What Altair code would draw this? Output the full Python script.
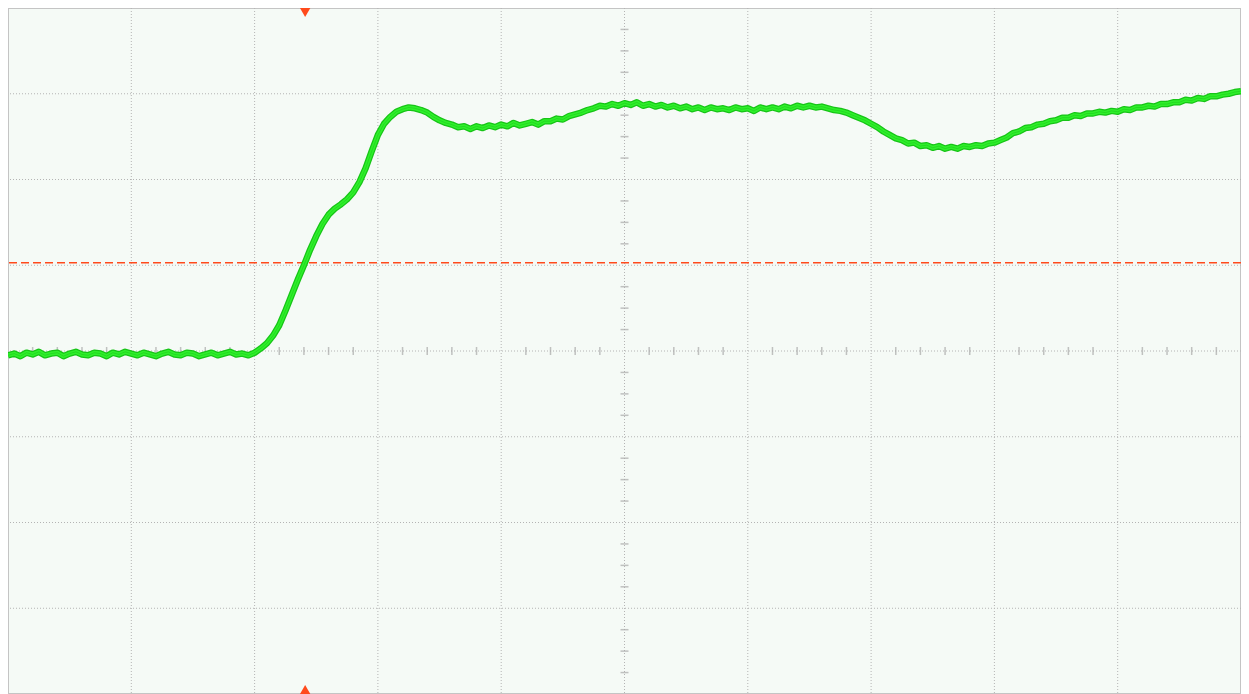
import altair as alt
import pandas as pd

# --- data (divisions) ---
t_step = 0.05
trace_v = [
    -0.05,-0.03,-0.06,-0.02,-0.04,-0.01,-0.05,-0.03,-0.02,-0.06,
    -0.03,-0.01,-0.04,-0.05,-0.02,-0.03,-0.06,-0.02,-0.04,-0.01,
    -0.03,-0.05,-0.02,-0.04,-0.06,-0.03,-0.01,-0.04,-0.05,-0.02,
    -0.03,-0.06,-0.04,-0.02,-0.05,-0.03,-0.01,-0.04,-0.03,-0.05,
    -0.02,0.03,0.09,0.18,0.30,0.47,0.65,0.83,1.00,1.18,
    1.34,1.48,1.59,1.66,1.71,1.77,1.85,1.97,2.13,2.33,
    2.52,2.65,2.73,2.79,2.82,2.84,2.83,2.81,2.78,2.73,
    2.69,2.66,2.64,2.61,2.62,2.59,2.62,2.60,2.63,2.61,
    2.64,2.62,2.66,2.63,2.65,2.67,2.64,2.68,2.68,2.71,
    2.70,2.74,2.76,2.78,2.81,2.83,2.86,2.85,2.88,2.86,
    2.89,2.87,2.90,2.86,2.88,2.85,2.87,2.84,2.86,2.83,
    2.85,2.82,2.84,2.81,2.84,2.82,2.83,2.81,2.84,2.82,
    2.83,2.80,2.84,2.82,2.84,2.82,2.85,2.83,2.86,2.84,
    2.86,2.84,2.85,2.83,2.81,2.80,2.78,2.75,2.72,2.69,
    2.65,2.61,2.56,2.52,2.48,2.46,2.42,2.43,2.39,2.40,
    2.37,2.39,2.36,2.38,2.36,2.39,2.38,2.40,2.39,2.42,
    2.43,2.46,2.49,2.54,2.56,2.60,2.61,2.64,2.65,2.68,
    2.69,2.72,2.72,2.75,2.74,2.77,2.77,2.79,2.78,2.80,
    2.79,2.82,2.81,2.84,2.84,2.86,2.85,2.88,2.88,2.90,
    2.90,2.93,2.92,2.95,2.94,2.97,2.97,2.99,3.00,3.02,
    3.03,
]
trace_t = [round(i * t_step, 2) for i in range(len(trace_v))]

grid_x = [1, 2, 3, 4, 5, 6, 7, 8, 9]
grid_y = [-3, -2, -1, 0, 1, 2, 3]
minor_x = [round(i * 0.2, 2) for i in range(1, 50) if i % 5 != 0]
minor_y = [round(-4 + i * 0.25, 2) for i in range(1, 32) if i % 4 != 0]
trigger_level = [1.03]
trigger_time = [2.41]

X = alt.Scale(domain=[0, 10], nice=False, zero=False)
Y = alt.Scale(domain=[-4, 4], nice=False, zero=False)

trace_df = pd.DataFrame({"t": trace_t, "v": trace_v})
gx_df = pd.DataFrame({"x": grid_x})
gy_df = pd.DataFrame({"y": grid_y})
mx_df = pd.DataFrame({"x": minor_x, "y": [0] * len(minor_x)})
my_df = pd.DataFrame({"y": minor_y, "x": [5] * len(minor_y)})
lvl_df = pd.DataFrame({"y": trigger_level})
trg_df = pd.DataFrame({"x": trigger_time, "top": [4], "bot": [-4]})

grid_color = "#b4b4b4"
red = "#ff4a1c"

vgrid = alt.Chart(gx_df).mark_rule(color=grid_color, strokeDash=[1, 2], strokeWidth=1).encode(
    x=alt.X("x:Q", scale=X, axis=None)
)
hgrid = alt.Chart(gy_df).mark_rule(color=grid_color, strokeDash=[1, 2], strokeWidth=1).encode(
    y=alt.Y("y:Q", scale=Y, axis=None)
)
ticks_x = alt.Chart(mx_df).mark_tick(orient="vertical", size=8, thickness=1.5, color="#a8a8a8").encode(
    x=alt.X("x:Q", scale=X, axis=None), y=alt.Y("y:Q", scale=Y, axis=None)
)
ticks_y = alt.Chart(my_df).mark_tick(orient="horizontal", size=8, thickness=1.5, color="#a8a8a8").encode(
    x=alt.X("x:Q", scale=X, axis=None), y=alt.Y("y:Q", scale=Y, axis=None)
)
level = alt.Chart(lvl_df).mark_rule(color=red, strokeDash=[8, 4], strokeWidth=1.6).encode(
    y=alt.Y("y:Q", scale=Y, axis=None)
)
trace_under = alt.Chart(trace_df).mark_line(color="#17c417", strokeWidth=6.5, strokeJoin="round").encode(
    x=alt.X("t:Q", scale=X, axis=None), y=alt.Y("v:Q", scale=Y, axis=None)
)
trace = alt.Chart(trace_df).mark_line(color="#2ef02a", strokeWidth=4, strokeJoin="round").encode(
    x=alt.X("t:Q", scale=X, axis=None), y=alt.Y("v:Q", scale=Y, axis=None)
)
trace_core = alt.Chart(trace_df).mark_line(color="#16b816", strokeWidth=0.7, opacity=0.6).encode(
    x=alt.X("t:Q", scale=X, axis=None), y=alt.Y("v:Q", scale=Y, axis=None)
)
mk_top = alt.Chart(trg_df).mark_point(shape="triangle-down", filled=True, size=190, color=red,
                                      opacity=1, yOffset=3, clip=False).encode(
    x=alt.X("x:Q", scale=X, axis=None), y=alt.Y("top:Q", scale=Y, axis=None)
)
mk_bot = alt.Chart(trg_df).mark_point(shape="triangle-up", filled=True, size=190, color=red,
                                      opacity=1, yOffset=-3, clip=False).encode(
    x=alt.X("x:Q", scale=X, axis=None), y=alt.Y("bot:Q", scale=Y, axis=None)
)

chart = alt.layer(vgrid, hgrid, ticks_x, ticks_y, level, trace_under, trace, trace_core, mk_top, mk_bot).properties(
    width=1233, height=686, padding=0, autosize=alt.AutoSizeParams(type="none"),
    background="white",
).configure_view(fill="#f5faf6", stroke="#c4c4c4", strokeWidth=2)

chart.save("out.html", embed_options={"renderer": "svg", "actions": False})
